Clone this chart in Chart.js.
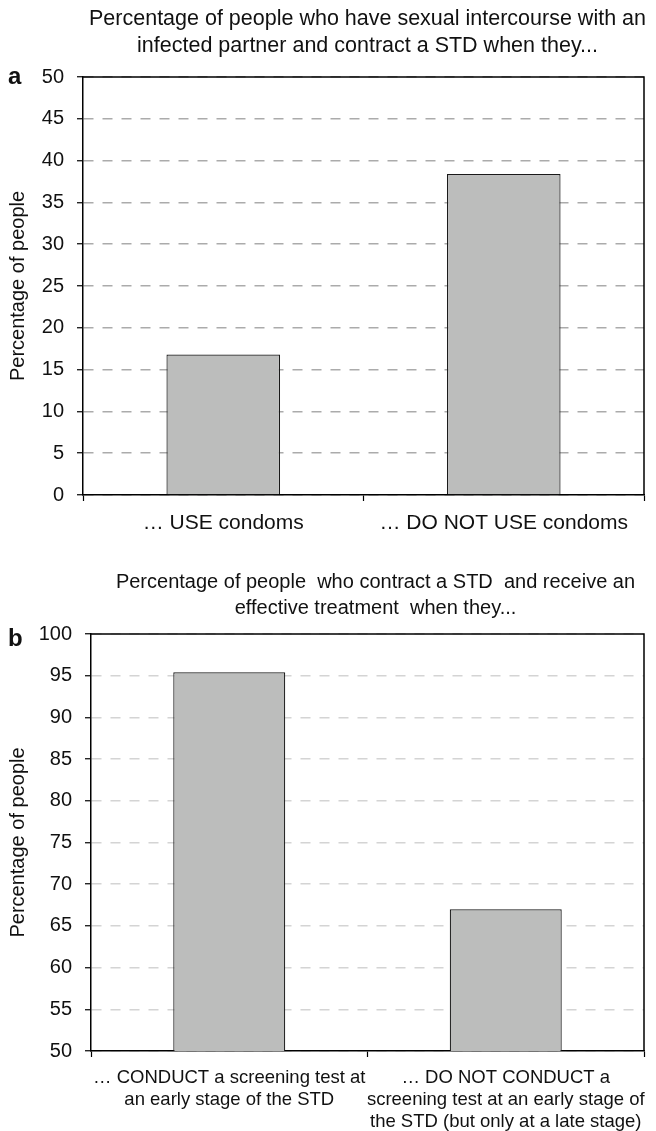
<!DOCTYPE html>
<html>
<head>
<meta charset="utf-8">
<script src="https://cdn.jsdelivr.net/npm/chart.js@4.4.1/dist/chart.umd.min.js"></script>
<style>
  html, body { margin: 0; padding: 0; background: #fff; }
  #wrap { position: relative; width: 656px; height: 1131px; }
  #wrap canvas { position: absolute; left: 0; }
  #chartA { top: 0; }
  #chartB { top: 560px; }
</style>
</head>
<body>
<div id="wrap">
  <canvas id="chartA" width="656" height="560"></canvas>
  <canvas id="chartB" width="656" height="571"></canvas>
</div>
<script>
// Panel a: infection with an infected partner, by condom use
const titleA = ['Percentage of people who have sexual intercourse with an',
                'infected partner and contract a STD when they...'];
const categoriesA = ['… USE condoms', '… DO NOT USE condoms'];
const valuesA = [16.8, 38.4];
const yMinA = 0, yMaxA = 50, yStepA = 5;

// Panel b: effective treatment, by early screening
const titleB = ['Percentage of people  who contract a STD  and receive an',
                'effective treatment  when they...'];
const categoriesB = [
  ['… CONDUCT a screening test at', 'an early stage of the STD'],
  ['… DO NOT CONDUCT a', 'screening test at an early stage of', 'the STD (but only at a late stage)']
];
const valuesB = [95.4, 67];
const yMinB = 50, yMaxB = 100, yStepB = 5;

const yTitle = 'Percentage of people';
const FONT = '"Liberation Sans", Arial, Helvetica, sans-serif';

// Draws the heading, the panel letter and the top/right frame of the plot box
const decorations = {
  id: 'decorations',
  afterDraw(chart, args, opts) {
    const ctx = chart.ctx;
    const a = chart.chartArea;
    ctx.save();
    // frame
    ctx.strokeStyle = '#000';
    ctx.lineWidth = 1.5;
    ctx.beginPath();
    ctx.moveTo(a.left, a.top);
    ctx.lineTo(a.right, a.top);
    ctx.lineTo(a.right, a.bottom);
    ctx.stroke();
    // heading
    ctx.fillStyle = '#111';
    ctx.font = opts.titleSize + 'px ' + FONT;
    ctx.textAlign = 'center';
    ctx.textBaseline = 'middle';
    const cx = (a.left + a.right) / 2 + opts.titleDx;
    opts.lines.forEach((t, i) => ctx.fillText(t, cx, opts.lineY[i]));
    // panel letter
    ctx.font = 'bold 24px ' + FONT;
    ctx.textAlign = 'left';
    ctx.textBaseline = 'alphabetic';
    ctx.fillText(opts.letter, 8, a.top + opts.letterDy);
    ctx.restore();
  }
};

function makeChart(id, cats, vals, yMin, yMax, yStep, cfg) {
  return new Chart(document.getElementById(id), {
    type: 'bar',
    data: {
      labels: cats,
      datasets: [{
        data: vals,
        backgroundColor: '#bcbdbc',
        borderColor: '#1a1a1a',
        borderWidth: 1.2,
        borderSkipped: 'bottom',
        barPercentage: 0.405,
        categoryPercentage: 1
      }]
    },
    options: {
      responsive: false,
      animation: false,
      events: [],
      layout: { padding: { top: cfg.padTop, right: 12, left: 0, bottom: 0 } },
      plugins: {
        legend: { display: false },
        tooltip: { enabled: false },
        decorations: cfg.deco
      },
      scales: {
        x: {
          grid: {
            drawOnChartArea: false,
            drawTicks: true,
            tickLength: 6,
            tickColor: '#000',
            tickWidth: 1.2,
            offset: true
          },
          border: { display: true, color: '#000', width: 1.5 },
          ticks: {
            color: '#111',
            padding: 10,
            maxRotation: 0,
            autoSkip: false,
            font: { family: FONT, size: cfg.xFont, lineHeight: cfg.xLine }
          },
          afterFit(scale) {
            scale.height = cfg.xHeight;
            scale.paddingLeft = 0;
            scale.paddingRight = 0;
          }
        },
        y: {
          min: yMin,
          max: yMax,
          ticks: {
            stepSize: yStep,
            color: '#111',
            padding: 13,
            font: { family: FONT, size: 20 }
          },
          grid: {
            color: cfg.gridColor,
            lineWidth: 1.5,
            tickLength: 6,
            tickColor: '#000',
            tickWidth: 1.2,
            tickBorderDash: []
          },
          border: { display: true, color: '#000', width: 1.5, dash: [10, 9] },
          title: {
            display: true,
            text: yTitle,
            color: '#111',
            padding: { top: 6, bottom: 0 },
            font: { family: FONT, size: 20 }
          },
          afterFit(scale) {
            scale.width = cfg.yWidth;
            scale.paddingTop = 0;
            scale.paddingBottom = 0;
          }
        }
      }
    },
    plugins: [decorations]
  });
}

makeChart('chartA', categoriesA, valuesA, yMinA, yMaxA, yStepA, {
  padTop: 77, xHeight: 65, yWidth: 83, gridColor: '#ababab', xFont: 21, xLine: 1.15,
  deco: { lines: titleA, lineY: [19, 46], letter: 'a', letterDy: 7, titleSize: 21.5, titleDx: 4 }
});

makeChart('chartB', categoriesB, valuesB, yMinB, yMaxB, yStepB, {
  padTop: 74, xHeight: 80, yWidth: 91, gridColor: '#d4d4d4', xFont: 18.5, xLine: 1.19,
  deco: { lines: titleB, lineY: [22, 48], letter: 'b', letterDy: 12, titleSize: 20, titleDx: 8 }
});
</script>
</body>
</html>
